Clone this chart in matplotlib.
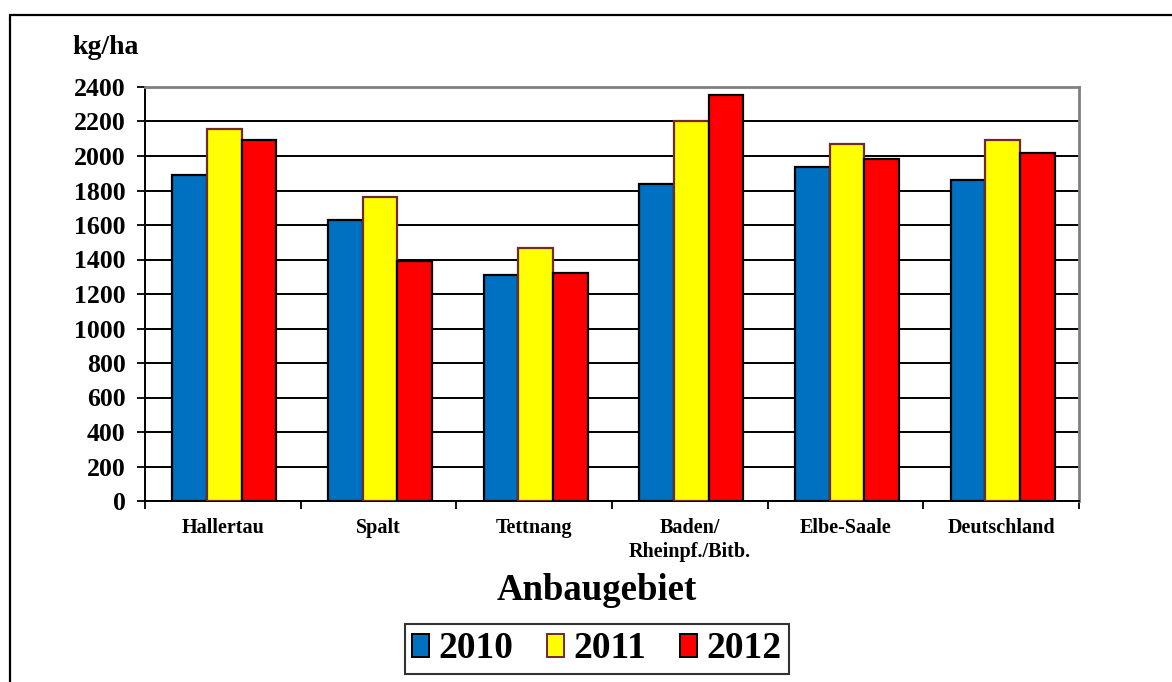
#!/usr/bin/env python3
# -*- coding: utf-8 -*-
# Hop yield per growing region (kg/ha), 2010-2012 grouped bar chart.

import matplotlib
matplotlib.use("Agg")
import matplotlib.pyplot as plt
import numpy as np
from matplotlib.patches import Patch, Rectangle

# -----------------------------------------------------------------------------
# Data
# -----------------------------------------------------------------------------

regions = ["Hallertau", "Spalt", "Tettnang", "Baden/\nRheinpf./Bitb.",
           "Elbe-Saale", "Deutschland"]
years = ["2010", "2011", "2012"]

yield_2010 = [1890, 1630, 1310, 1840, 1935, 1860]
yield_2011 = [2155, 1760, 1465, 2200, 2070, 2090]
yield_2012 = [2090, 1390, 1320, 2355, 1980, 2015]

y_ticks = [0, 200, 400, 600, 800, 1000, 1200, 1400, 1600, 1800, 2000, 2200, 2400]

# Style
fill_colors = ["#0070C0", "#FFFF00", "#FF0000"]
edge_colors = ["#000000", "#6E2B2B", "#000000"]
FONT = ["Liberation Serif", "DejaVu Serif"]

# -----------------------------------------------------------------------------
# Figure
# -----------------------------------------------------------------------------

W, H = 1172, 682
plt.rcParams["font.family"] = FONT
plt.rcParams["font.weight"] = "bold"

fig = plt.figure(figsize=(W / 100, H / 100), dpi=100)

# outer frame (runs off the right and bottom edges)
fig.add_artist(Rectangle((10 / W, -0.1), 1.2, 1 - 15 / H + 0.1,
                         transform=fig.transFigure, fill=False,
                         ec="black", lw=1.6))

left, right, top, bottom = 145, 1079, 87, 501
ax = fig.add_axes([left / W, 1 - bottom / H, (right - left) / W, (bottom - top) / H])

x = np.arange(len(regions))
bar_w = 0.223
series = [yield_2010, yield_2011, yield_2012]
for i, vals in enumerate(series):
    ax.bar(x + (i - 1) * bar_w + 0.01, vals, width=bar_w,
           color=fill_colors[i], edgecolor=edge_colors[i], linewidth=1.6,
           zorder=3)

ax.set_xlim(-0.5, len(regions) - 0.5)
ax.set_ylim(0, 2400)
ax.set_yticks(y_ticks)
ax.set_yticklabels([str(v) for v in y_ticks], fontsize=18.5, fontweight="bold")
ax.tick_params(axis="y", length=6, width=1.3, pad=8)

# boundary ticks (major) and region labels (minor)
ax.set_xticks(np.arange(len(regions) + 1) - 0.5)
ax.set_xticklabels([])
ax.tick_params(axis="x", which="major", length=6, width=1.3, direction="out")
ax.set_xticks(x, minor=True)
ax.set_xticklabels(regions, minor=True, fontsize=14.5, fontweight="bold",
                   linespacing=1.3)
ax.tick_params(axis="x", which="minor", length=0, pad=12)

ax.yaxis.grid(True, color="black", linewidth=1.4, zorder=0)
ax.set_axisbelow(True)
for side in ["left", "bottom"]:
    ax.spines[side].set_color("black")
    ax.spines[side].set_linewidth(1.4)
for side in ["top", "right"]:
    ax.spines[side].set_color("#808080")
    ax.spines[side].set_linewidth(2.0)

fig.text(72 / W, 1 - 47 / H, "kg/ha", fontsize=20, fontweight="bold",
         ha="left", va="center")
fig.text(597 / W, 1 - 590 / H, "Anbaugebiet", fontsize=26.5, fontweight="bold",
         ha="center", va="center")

handles = [Patch(facecolor=fill_colors[i], edgecolor=edge_colors[i],
                 linewidth=1.4, label=years[i]) for i in range(3)]
leg = fig.legend(handles=handles, loc="center", bbox_to_anchor=(597 / W, 1 - 649 / H),
                 ncol=3, prop={"weight": "bold", "size": 27},
                 frameon=True, fancybox=False, edgecolor="black",
                 handlelength=0.45, handleheight=0.55, handletextpad=0.25,
                 columnspacing=0.9, borderpad=0.2, borderaxespad=0)
leg.get_frame().set_linewidth(1.5)

fig.savefig("out.png", dpi=100)
